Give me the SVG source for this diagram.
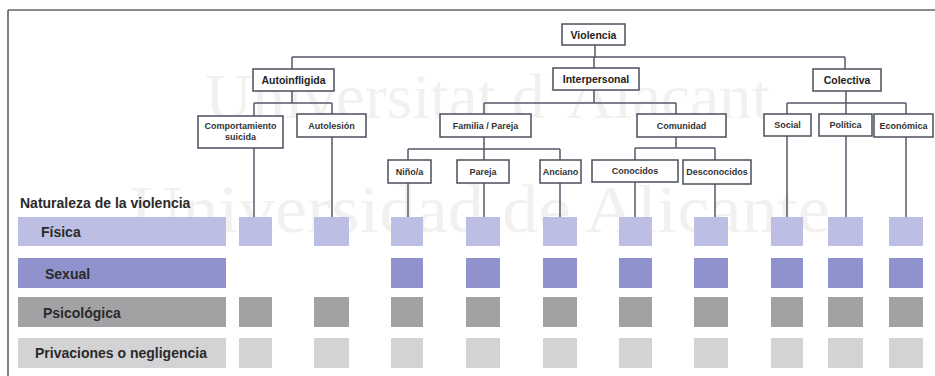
<svg xmlns="http://www.w3.org/2000/svg" width="935" height="376" viewBox="0 0 935 376">
<style>
.bg{fill:#ffffff}
.wm{font-family:"Liberation Serif",serif;fill:#f3f0f0}
.box{fill:#ffffff;stroke:#4a4f5e;stroke-width:1.5}
.t1{font-family:"Liberation Sans",Arial,sans-serif;font-weight:bold;font-size:10.5px;fill:#222;text-anchor:middle}
.t2{font-family:"Liberation Sans",Arial,sans-serif;font-weight:bold;font-size:9px;fill:#333;text-anchor:middle}
.ln{stroke:#555a6a;stroke-width:1.5;fill:none}
.lbl{font-family:"Liberation Sans",Arial,sans-serif;font-weight:bold;font-size:14px;fill:#2a2a2a}
.f{fill:#bcbfe3}
.s{fill:#8f92cc}
.p{fill:#a2a2a5}
.n{fill:#d3d3d5}
</style>
<rect class="bg" x="0" y="0" width="935" height="376"/>
<g id="watermark">
<text class="wm" x="205" y="118" font-size="64" textLength="565" lengthAdjust="spacingAndGlyphs">Universitat d’Alacant</text>
<text class="wm" x="130" y="232" font-size="68" textLength="700" lengthAdjust="spacingAndGlyphs">Universidad de Alicante</text>
</g>
<g id="frame">
<line x1="8" y1="10" x2="935" y2="10" stroke="#8a8a8a" stroke-width="2"/>
<line x1="8" y1="10" x2="8" y2="376" stroke="#555" stroke-width="1.5"/>
</g>
<g id="connectors">
<path class="ln" d="M595 45V57M292 57H845M292 57V69M594 57V68M845 57V69"/>
<path class="ln" d="M292 91V103M254 103H332M254 103V116M332 103V114M254 148V217M332 137V217"/>
<path class="ln" d="M594 90V103M484 103H676M484 103V114M676 103V114"/>
<path class="ln" d="M484 137V160M408 149H560M408 149V160M560 149V160M408 183V217M484 183V217M560 183V217"/>
<path class="ln" d="M676 137V148M635 148H715M635 148V160M715 148V160M635 182V217M715 184V217"/>
<path class="ln" d="M846 91V103M787 103H906M787 103V114M846 103V114M906 103V114M787 136V217M846 136V217M906 137V217"/>
</g>
<g id="n-violencia"><rect class="box" x="562" y="24" width="63" height="21"/><text class="t1" x="593.5" y="38.5">Violencia</text></g>
<g id="n-autoinfligida"><rect class="box" x="253" y="69" width="81" height="22"/><text class="t1" x="293.5" y="84">Autoinfligida</text></g>
<g id="n-interpersonal"><rect class="box" x="553" y="68" width="86" height="22"/><text class="t1" x="596" y="83">Interpersonal</text></g>
<g id="n-colectiva"><rect class="box" x="813" y="69" width="68" height="22"/><text class="t1" x="847" y="84">Colectiva</text></g>
<g id="n-comportamiento"><rect class="box" x="198" y="116" width="85" height="32"/><text class="t2" x="240.5" y="129">Comportamiento</text><text class="t2" x="240.5" y="140">suicida</text></g>
<g id="n-autolesion"><rect class="box" x="297" y="114" width="69" height="23"/><text class="t2" x="331.5" y="128.5">Autolesión</text></g>
<g id="n-familia"><rect class="box" x="440" y="114" width="91" height="23"/><text class="t2" x="485.5" y="128.5">Familia / Pareja</text></g>
<g id="n-comunidad"><rect class="box" x="637" y="114" width="89" height="23"/><text class="t2" x="681.5" y="128.5">Comunidad</text></g>
<g id="n-social"><rect class="box" x="764" y="114" width="47" height="22"/><text class="t2" x="787.5" y="128">Social</text></g>
<g id="n-politica"><rect class="box" x="819" y="114" width="53" height="22"/><text class="t2" x="845.5" y="128">Política</text></g>
<g id="n-economica"><rect class="box" x="874" y="114" width="59" height="23"/><text class="t2" x="903.5" y="128.5">Económica</text></g>
<g id="n-nino"><rect class="box" x="388" y="160" width="43" height="23"/><text class="t2" x="409.5" y="174.5">Niño/a</text></g>
<g id="n-pareja"><rect class="box" x="457" y="160" width="52" height="23"/><text class="t2" x="483" y="174.5">Pareja</text></g>
<g id="n-anciano"><rect class="box" x="540" y="160" width="41" height="23"/><text class="t2" x="560.5" y="174.5">Anciano</text></g>
<g id="n-conocidos"><rect class="box" x="592" y="160" width="86" height="22"/><text class="t2" x="635" y="174">Conocidos</text></g>
<g id="n-desconocidos"><rect class="box" x="683" y="160" width="68" height="24"/><text class="t2" x="717" y="175">Desconocidos</text></g>
<g id="legend">
<text class="lbl" x="20" y="208">Naturaleza de la violencia</text>
<rect class="f" x="18" y="217" width="208" height="29"/><text class="lbl" x="41" y="237">Física</text>
<rect class="s" x="18" y="258" width="208" height="30"/><text class="lbl" x="45" y="278.5">Sexual</text>
<rect class="p" x="18" y="297" width="208" height="30"/><text class="lbl" x="43" y="317.5">Psicológica</text>
<rect class="n" x="18" y="338" width="208" height="30"/><text class="lbl" x="35" y="358">Privaciones o negligencia</text>
</g>
<g id="grid">
<g id="c-comportamiento"><rect class="f" x="239" y="217" width="33" height="29"/><rect class="p" x="239" y="297" width="33" height="30"/><rect class="n" x="239" y="338" width="33" height="30"/></g>
<g id="c-autolesion"><rect class="f" x="314" y="217" width="35" height="29"/><rect class="p" x="314" y="297" width="35" height="30"/><rect class="n" x="314" y="338" width="35" height="30"/></g>
<g id="c-nino"><rect class="f" x="391" y="217" width="32" height="29"/><rect class="s" x="391" y="258" width="32" height="30"/><rect class="p" x="391" y="297" width="32" height="30"/><rect class="n" x="391" y="338" width="32" height="30"/></g>
<g id="c-pareja"><rect class="f" x="466" y="217" width="34" height="29"/><rect class="s" x="466" y="258" width="34" height="30"/><rect class="p" x="466" y="297" width="34" height="30"/><rect class="n" x="466" y="338" width="34" height="30"/></g>
<g id="c-anciano"><rect class="f" x="543" y="217" width="34" height="29"/><rect class="s" x="543" y="258" width="34" height="30"/><rect class="p" x="543" y="297" width="34" height="30"/><rect class="n" x="543" y="338" width="34" height="30"/></g>
<g id="c-conocidos"><rect class="f" x="619" y="217" width="33" height="29"/><rect class="s" x="619" y="258" width="33" height="30"/><rect class="p" x="619" y="297" width="33" height="30"/><rect class="n" x="619" y="338" width="33" height="30"/></g>
<g id="c-desconocidos"><rect class="f" x="694" y="217" width="34" height="29"/><rect class="s" x="694" y="258" width="34" height="30"/><rect class="p" x="694" y="297" width="34" height="30"/><rect class="n" x="694" y="338" width="34" height="30"/></g>
<g id="c-social"><rect class="f" x="771" y="217" width="32" height="29"/><rect class="s" x="771" y="258" width="32" height="30"/><rect class="p" x="771" y="297" width="32" height="30"/><rect class="n" x="771" y="338" width="32" height="30"/></g>
<g id="c-politica"><rect class="f" x="828" y="217" width="35" height="29"/><rect class="s" x="828" y="258" width="35" height="30"/><rect class="p" x="828" y="297" width="35" height="30"/><rect class="n" x="828" y="338" width="35" height="30"/></g>
<g id="c-economica"><rect class="f" x="889" y="217" width="34" height="29"/><rect class="s" x="889" y="258" width="34" height="30"/><rect class="p" x="889" y="297" width="34" height="30"/><rect class="n" x="889" y="338" width="34" height="30"/></g>
</g>
</svg>
